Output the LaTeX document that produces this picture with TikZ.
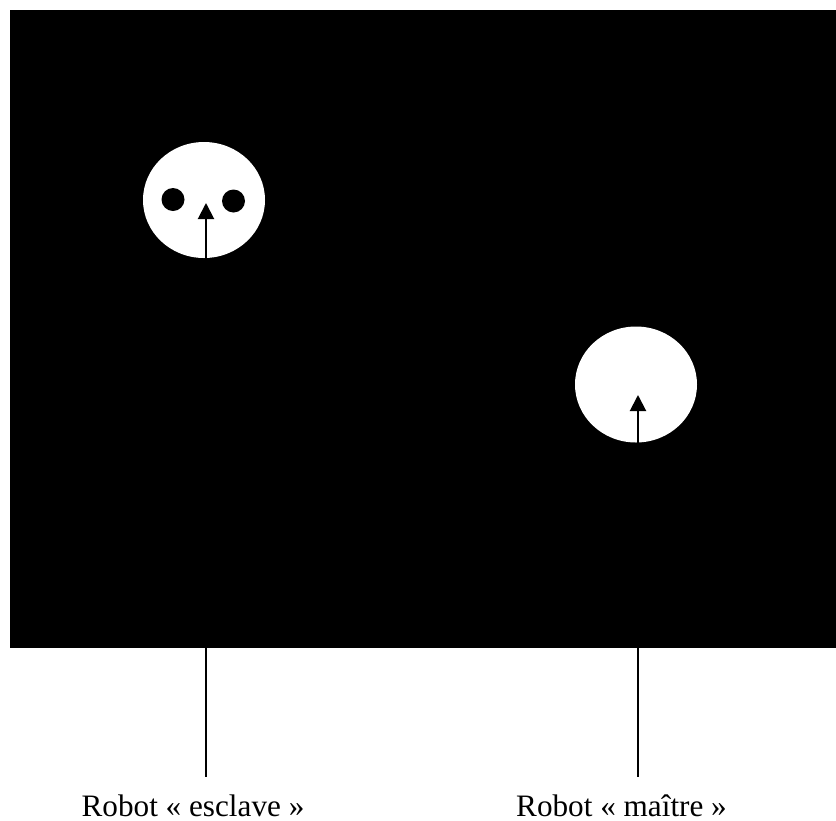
\documentclass[tikz,border=0pt]{standalone}
\usepackage{fontspec}
\setmainfont{Liberation Serif}
\usetikzlibrary{arrows.meta,positioning,shapes.geometric}

\begin{document}
\begin{tikzpicture}[
      x=0.5pt, y=-0.5pt,
      robot/.style={
        ellipse,
        fill=white,
        inner sep=0pt,
        minimum width=61pt,
        minimum height=58pt
      },
      eye/.style={
        circle,
        fill=black,
        inner sep=0pt,
        minimum size=11.5pt
      },
      caption/.style={
        font=\fontsize{15.6}{18}\selectfont,
        anchor=base,
        inner sep=0pt,
        text depth=0pt
      },
      heading/.style={line width=1pt, -{Triangle[length=8pt,width=8pt]}},
      pointer/.style={line width=1pt}
    ]

    % Frame: the page and the black camera image
    \useasboundingbox (0,0) rectangle (836,820);
    \fill[black] (10,10) rectangle (836,648);

    % Robots seen from above
    \node[robot] (slave) at (204,200) {};
    \node[robot] (master) at (636,384.5) {};
    \node[eye] (eyeL) at (173,199.5) {};
    \node[eye] (eyeR) at (233.5,201) {};

    % Heading arrows
    \coordinate (slavetip) at (206,203);
    \coordinate (mastertip) at (638,395);
    \draw[heading] (slave.south -| slavetip) -- (slavetip);
    \draw[heading] (master.south -| mastertip) -- (mastertip);

    % Labels
    \node[caption] (slavelbl) at (193,816) {Robot « esclave »};
    \node[caption] (masterlbl) at (621.5,816) {Robot « maître »};
    \coordinate (slavefoot) at (206,648);
    \coordinate (masterfoot) at (638,648);
    \draw[pointer] (slavefoot) -- (206,777);
    \draw[pointer] (masterfoot) -- (638,777);

\end{tikzpicture}
\end{document}
